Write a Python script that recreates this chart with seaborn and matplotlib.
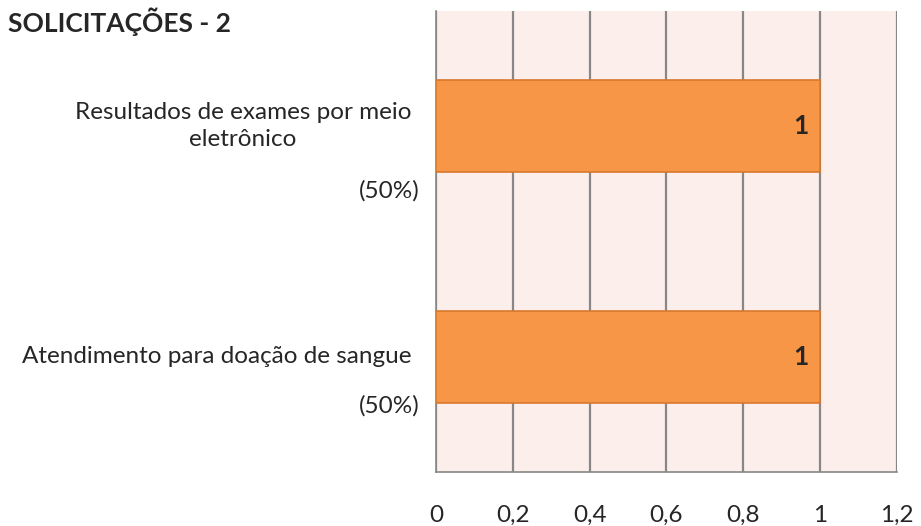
import matplotlib
matplotlib.use("Agg")
import matplotlib.pyplot as plt
import matplotlib.transforms as mtransforms
import pandas as pd
import seaborn as sns

categories = ["Resultados de exames por meio\neletrônico", "Atendimento para doação de sangue"]
values = [1, 1]
percents = ["(50%)", "(50%)"]
x_ticks = [0, 0.2, 0.4, 0.6, 0.8, 1, 1.2]
x_tick_labels = ["0", "0,2", "0,4", "0,6", "0,8", "1", "1,2"]
title = "SOLICITAÇÕES - 2"

sns.set_theme(style="white")
plt.rcParams["font.family"] = ["Lato", "DejaVu Sans"]

df = pd.DataFrame({"categoria": categories, "valor": values})

fig = plt.figure(figsize=(9.21, 5.26), dpi=100)
ax = fig.add_axes([0.4734, 0.1027, 0.5005, 0.8764])
ax.set_facecolor("#FCEEEA")

sns.barplot(data=df, x="valor", y="categoria", orient="h", color="#F79646",
            width=0.4, edgecolor="#D8782F", linewidth=1.2, saturation=1, ax=ax, zorder=3)

ax.set_xlim(0, 1.2)
ax.set_ylim(1.5, -0.5)
ax.set_xticks(x_ticks)
ax.set_xticklabels(x_tick_labels, fontsize=17.5)
ax.set_yticks([-0.5, 0.5, 1.5])
ax.set_yticklabels([])
ax.xaxis.grid(True, color="#878787", linewidth=1.6, zorder=0)
ax.set_axisbelow(True)
ax.tick_params(axis="x", direction="out", length=6, width=1.6, color="#878787", pad=18)
ax.tick_params(axis="y", direction="out", length=4.5, width=1.2, color="#878787")
for side in ["top", "right"]:
    ax.spines[side].set_visible(False)
for side in ["left", "bottom"]:
    ax.spines[side].set_color("#878787")
    ax.spines[side].set_linewidth(1.2)
ax.set_xlabel("")
ax.set_ylabel("")

# category labels to the left of the axis
trans = mtransforms.blended_transform_factory(ax.transAxes, ax.transData)
line_step = 0.139
for i, (cat, pct) in enumerate(zip(categories, percents)):
    n_lines = cat.count("\n") + 1
    ax.text(-0.054, i, cat, transform=trans, ha="right", va="center",
            multialignment="center", fontsize=17.5, linespacing=1.38)
    ax.text(-0.035, i + (n_lines - 1) * line_step / 2 + 0.212, pct, transform=trans,
            ha="right", va="center", fontsize=17.5)

# value labels
for i, v in enumerate(values):
    ax.text(v - 0.03, i, f"{v}", ha="right", va="center", fontsize=19, fontweight="bold", zorder=4)

fig.text(0.009, 0.958, title, ha="left", va="center", fontsize=19, fontweight="bold")

fig.savefig("out.png", dpi=100)
